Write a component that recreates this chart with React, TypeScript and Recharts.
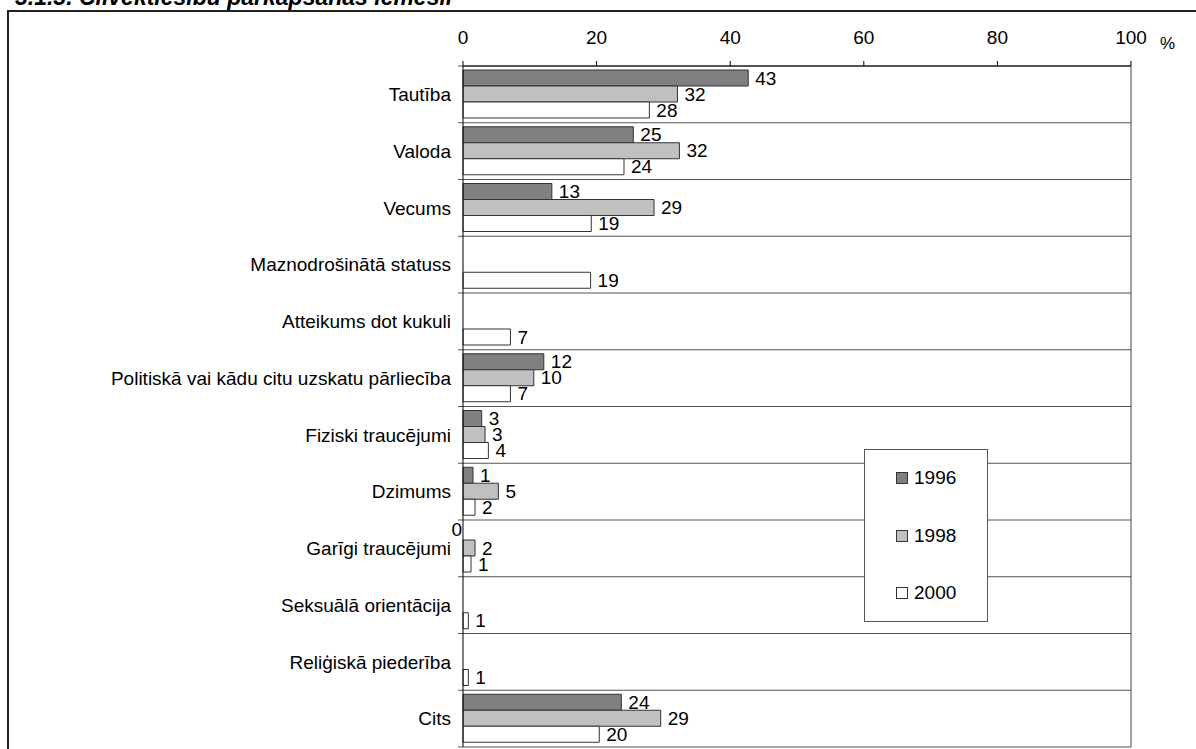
import React from "react";
import {
  BarChart,
  Bar,
  XAxis,
  YAxis,
  CartesianGrid,
  ReferenceLine,
  LabelList,
  Legend,
} from "recharts";

const categories = [
  "Tautība",
  "Valoda",
  "Vecums",
  "Maznodrošinātā statuss",
  "Atteikums dot kukuli",
  "Politiskā vai kādu citu uzskatu pārliecība",
  "Fiziski traucējumi",
  "Dzimums",
  "Garīgi traucējumi",
  "Seksuālā orientācija",
  "Reliģiskā piederība",
  "Cits",
];

// bar lengths
const values1996 = [42.7, 25.5, 13.3, null, null, 12.1, 2.8, 1.5, 0, null, null, 23.7];
const values1998 = [32.1, 32.4, 28.6, null, null, 10.6, 3.3, 5.3, 1.8, null, null, 29.6];
const values2000 = [27.9, 24.1, 19.2, 19.1, 7.1, 7.1, 3.8, 1.8, 1.2, 0.8, 0.8, 20.4];

// printed data labels
const labels1996 = [43, 25, 13, null, null, 12, 3, 1, 0, null, null, 24];
const labels1998 = [32, 32, 29, null, null, 10, 3, 5, 2, null, null, 29];
const labels2000 = [28, 24, 19, 19, 7, 7, 4, 2, 1, 1, 1, 20];

const xTicks = [0, 20, 40, 60, 80, 100];

const data = categories.map((name, i) => ({
  name,
  v1996: values1996[i],
  v1998: values1998[i],
  v2000: values2000[i],
  l1996: labels1996[i],
  l1998: labels1998[i],
  l2000: labels2000[i],
}));

const FONT = "'Liberation Sans', Arial, sans-serif";
const BAR = 16;

const ValueLabel = (props: any) => {
  const { value } = props;
  if (value === null || value === undefined || Number(value) === 0) return null;
  const vb = props.viewBox ?? {};
  const x = Number(vb.x ?? props.x);
  const w = Number(vb.width ?? props.width) || 0;
  const cy = Number(vb.y ?? props.y) + (Number(vb.height ?? props.height) || 0) / 2;
  return (
    <text x={x + w + 7} y={cy + 6.5} fontSize={19} fill="#000" fontFamily={FONT}>
      {value}
    </text>
  );
};

// category label; the zero-length 1996 bar gets no label from recharts,
// so its "0" is drawn here, just left of the axis at the first bar's row
const CategoryTick = (props: any) => {
  const { x, y, payload } = props;
  const i = categories.indexOf(payload?.value);
  return (
    <g>
      <text x={x} y={y} dy="0.355em" textAnchor="end" fontSize={19} fill="#000" fontFamily={FONT}>
        {payload?.value}
      </text>
      {labels1996[i] === 0 && (
        <text x={x + 11} y={y - BAR + 3.5} textAnchor="end" fontSize={19} fill="#000" fontFamily={FONT}>
          0
        </text>
      )}
    </g>
  );
};

// separator lines between the categories, split evenly over the plot height,
// drawn 5px past the axis like the reference
const bandEdges = ({ offset }: any) =>
  Array.from({ length: categories.length + 1 }, (_, i) => offset.top + (i * offset.height) / categories.length);

const Separator = (p: any) => (
  <line x1={p.x1 - 5} y1={p.y1} x2={p.x2} y2={p.y2} stroke="#555" strokeWidth={1} />
);

const LegendBox = (props: any) => {
  const { payload = [] } = props;
  return (
    <div
      style={{
        position: "relative",
        width: 122,
        height: 171,
        border: "1px solid #555",
        background: "#fff",
        fontFamily: FONT,
      }}
    >
      {payload.map((p: any, i: number) => (
        <div
          key={p.value}
          style={{
            position: "absolute",
            left: 31,
            top: 17 + i * 57.5,
            height: 22,
            display: "flex",
            alignItems: "center",
          }}
        >
          <span
            style={{
              display: "inline-block",
              width: 10,
              height: 10,
              background: p.payload?.fill ?? p.color,
              border: "1px solid #333",
            }}
          />
          <span style={{ marginLeft: 6, fontSize: 19, color: "#000" }}>{p.value}</span>
        </div>
      ))}
    </div>
  );
};

export default function App() {
  return (
    <div
      style={{
        position: "absolute",
        left: 0,
        top: 0,
        width: 1196,
        height: 749,
        overflow: "hidden",
        background: "#fff",
        fontFamily: FONT,
      }}
    >
      <div
        style={{
          position: "absolute",
          left: 15,
          top: -14,
          fontSize: 23,
          lineHeight: "23px",
          fontWeight: "bold",
          fontStyle: "italic",
          whiteSpace: "nowrap",
        }}
      >
        3.1.3. Cilvēktiesību pārkāpšanas iemesli
      </div>
      <div
        style={{
          position: "absolute",
          left: 7,
          top: 10,
          width: 1220,
          height: 780,
          borderLeft: "2px solid #222",
          borderTop: "2px solid #222",
        }}
      />
      <div style={{ position: "absolute", left: 1160, top: 34, fontSize: 17 }}>%</div>
      <div style={{ position: "absolute", left: 0, top: 0 }}>
        <BarChart
          width={1196}
          height={749}
          data={data}
          layout="vertical"
          margin={{ top: 0, right: 65, bottom: 2, left: 0 }}
          barSize={BAR}
          barGap={0}
        >
          <CartesianGrid
            vertical={false}
            horizontal={Separator}
            horizontalCoordinatesGenerator={bandEdges}
          />
          <XAxis
            type="number"
            orientation="top"
            domain={[0, 100]}
            ticks={xTicks}
            height={66}
            tickSize={5}
            tickMargin={17}
            axisLine={{ stroke: "#000" }}
            tickLine={{ stroke: "#000" }}
            tick={{ fontSize: 19, fill: "#000" }}
          />
          <YAxis
            type="category"
            dataKey="name"
            width={463}
            interval={0}
            tickSize={0}
            tickMargin={12}
            axisLine={{ stroke: "#000" }}
            tickLine={false}
            tick={CategoryTick}
          />
          <ReferenceLine x={100} stroke="#444" />
          <Legend
            layout="vertical"
            align="center"
            verticalAlign="middle"
            content={LegendBox}
            wrapperStyle={{ left: 864, top: 449, width: 124, height: 173 }}
          />
          <Bar dataKey="v1996" name="1996" fill="#808080" stroke="#333" strokeWidth={1} isAnimationActive={false}>
            <LabelList dataKey="l1996" content={ValueLabel} />
          </Bar>
          <Bar dataKey="v1998" name="1998" fill="#c0c0c0" stroke="#333" strokeWidth={1} isAnimationActive={false}>
            <LabelList dataKey="l1998" content={ValueLabel} />
          </Bar>
          <Bar dataKey="v2000" name="2000" fill="#ffffff" stroke="#333" strokeWidth={1} isAnimationActive={false}>
            <LabelList dataKey="l2000" content={ValueLabel} />
          </Bar>
        </BarChart>
      </div>
    </div>
  );
}
